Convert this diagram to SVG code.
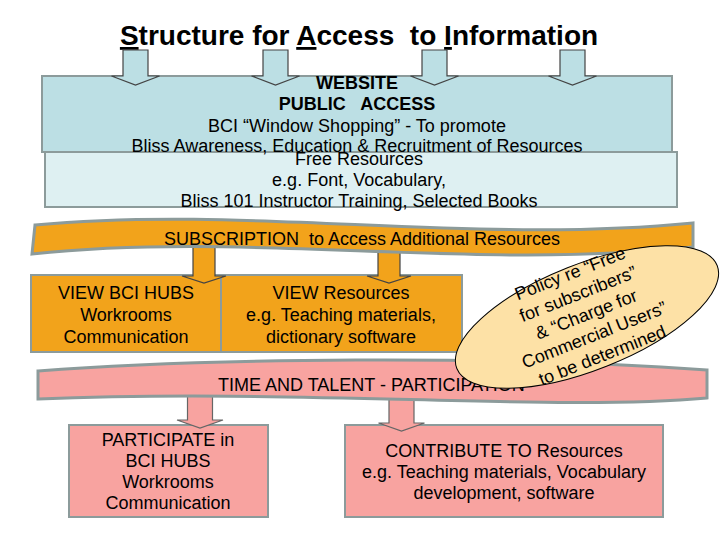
<svg xmlns="http://www.w3.org/2000/svg" xmlns:xlink="http://www.w3.org/1999/xlink" width="720" height="540" viewBox="0 0 720 540">
<style>
  text { font-family: "Liberation Sans", Arial, sans-serif; font-size: 18px; fill: #000; white-space: pre; }
  .c { text-anchor: middle; }
  .b { font-weight: bold; }
  .title { font-size: 28px; font-weight: bold; text-anchor: middle; }
  .u { text-decoration: underline; }
  .edge { stroke: #8c9b9b; stroke-width: 2; }
  .blue { fill: #bcdfe4; }
  .lblue { fill: #def0f2; }
  .orange { fill: #f2a31b; }
  .pink { fill: #f8a3a0; }
  .oval { fill: #fde1a6; stroke: #000; stroke-width: 1; }
  .ov { font-size: 18px; }
</style>
<defs>
  <path id="arrTop" d="M-12.5,0 H12.5 V26 H24 L0,35 L-24,26 H-12.5 Z"/>
  <path id="arrOr" d="M-11,0 H11 V30 H22 L0,37 L-22,30 H-11 Z"/>
  <path id="arrPk" d="M-12.5,0 H12.5 V27 H23 L0,35 L-23,27 H-12.5 Z"/>
</defs>

<text id="title" class="title" x="359" y="45"><tspan class="u">S</tspan>tructure for <tspan class="u">A</tspan>ccess  to <tspan class="u">I</tspan>nformation</text>

<g id="website">
  <rect class="blue edge" x="42" y="76" width="630" height="76"/>
</g>
<g id="free-resources">
  <rect class="lblue edge" x="45" y="152" width="632" height="55"/>
</g>
<g id="website-text">
  <text class="c b" x="357" y="89">WEBSITE</text>
  <text class="c b" x="357" y="110">PUBLIC   ACCESS</text>
  <text class="c" x="357" y="132">BCI “Window Shopping” - To promote</text>
  <text class="c" x="357" y="152">Bliss Awareness, Education &amp; Recruitment of Resources</text>
</g>
<g id="free-text">
  <text class="c" x="359" y="165">Free Resources</text>
  <text class="c" x="359" y="186">e.g. Font, Vocabulary,</text>
  <text class="c" x="359" y="207">Bliss 101 Instructor Training, Selected Books</text>
</g>

<g id="view-hubs">
  <rect class="orange edge" x="31" y="275" width="190" height="77"/>
  <text class="c" x="126" y="299">VIEW BCI HUBS</text>
  <text class="c" x="126" y="321">Workrooms</text>
  <text class="c" x="126" y="343">Communication</text>
</g>
<g id="view-resources">
  <rect class="orange edge" x="221" y="275" width="241" height="77"/>
  <text class="c" x="341" y="299">VIEW Resources</text>
  <text class="c" x="341" y="321">e.g. Teaching materials,</text>
  <text class="c" x="341" y="343">dictionary software</text>
</g>

<g id="participate">
  <rect class="pink edge" x="69" y="425" width="199" height="92"/>
  <text class="c" x="168" y="446">PARTICIPATE in</text>
  <text class="c" x="168" y="467">BCI HUBS</text>
  <text class="c" x="168" y="488">Workrooms</text>
  <text class="c" x="168" y="509">Communication</text>
</g>
<g id="contribute">
  <rect class="pink edge" x="345" y="425" width="318" height="92"/>
  <text class="c" x="504" y="457">CONTRIBUTE TO Resources</text>
  <text class="c" x="504" y="478">e.g. Teaching materials, Vocabulary</text>
  <text class="c" x="504" y="499">development, software</text>
</g>

<g id="connectors">
  <use xlink:href="#arrTop" x="135.5" y="50" class="blue" stroke="#444" stroke-width="1.2"/>
  <use xlink:href="#arrTop" x="275.5" y="50" class="blue" stroke="#444" stroke-width="1.2"/>
  <use xlink:href="#arrTop" x="434.5" y="50" class="blue" stroke="#444" stroke-width="1.2"/>
  <use xlink:href="#arrTop" x="572.5" y="50" class="blue" stroke="#444" stroke-width="1.2"/>
  <use xlink:href="#arrOr" x="204" y="246" class="orange" stroke="#444" stroke-width="1.2"/>
  <use xlink:href="#arrOr" x="389" y="246" class="orange" stroke="#444" stroke-width="1.2"/>
  <use xlink:href="#arrPk" x="200" y="393" class="pink" stroke="#666" stroke-width="1.2"/>
  <use xlink:href="#arrPk" x="401.5" y="396" class="pink" stroke="#666" stroke-width="1.2"/>
</g>

<g id="subscription">
  <path class="orange" stroke="#8c9b9b" stroke-width="3" d="M35,225 C250,205 470,245 693,223 L693,247 C470,271 250,231 32,254 Z"/>
  <text class="c" x="362" y="245">SUBSCRIPTION  to Access Additional Resources</text>
</g>

<g id="time-talent">
  <path class="pink" stroke="#8c9b9b" stroke-width="3" d="M38,371 C200,358 500,355 707,370 L707,398 C550,412 300,388 38,399 Z"/>
  <text x="218" y="391">TIME AND TALENT - PARTICIPATION</text>
</g>

<g id="policy">
  <ellipse class="oval" cx="587" cy="317" rx="140" ry="53" transform="rotate(-21.6 587 317)"/>
  <g transform="translate(586 314) rotate(-21.5)">
    <text class="c ov" x="0" y="-37.5">Policy re “Free</text>
    <text class="c ov" x="0" y="-15.5">for subscribers”</text>
    <text class="c ov" x="0" y="6.5">&amp; “Charge for</text>
    <text class="c ov" x="0" y="28.5">Commercial Users”</text>
    <text class="c ov" x="0" y="50.5">to be determined</text>
  </g>
</g>
</svg>
